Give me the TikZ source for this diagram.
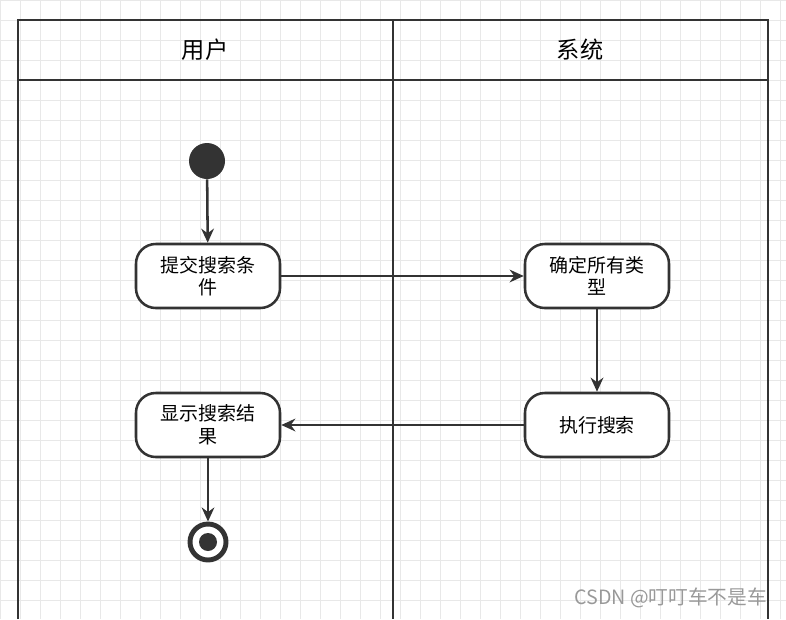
\documentclass[tikz,border=0pt]{standalone}
\usepackage{fontspec}
\setmainfont{Noto Sans CJK SC}
\usetikzlibrary{arrows.meta}
\tikzset{
    act/.style={draw=black!80, line width=1.8pt, rounded corners=14pt, minimum width=144*0.025cm, minimum height=64*0.025cm, inner sep=1pt, text width=118*0.025cm, align=center, font=\fontsize{13.5}{16}\selectfont, fill=white},
    flow/.style={draw=black!80, line width=1.8pt, -{Stealth[length=10pt,width=9pt]}},
    lane/.style={draw=black!80, line width=1.6pt}
}
\begin{document}
\begin{tikzpicture}[x=0.025cm, y=-0.025cm]

    % Background and grid
    \useasboundingbox (0,0) rectangle (786,619);
    \draw[black!9, line width=0.6pt, step=20*0.025cm] (0,0) grid (786,619);

    % Swimlanes
    \draw[lane] (18,619) -- (18,20) -- (768,20) -- (768,619);
    \draw[lane] (18,80) -- (768,80);
    \draw[lane] (393,20) -- (393,619);
    \node[font=\fontsize{16.5}{19}\selectfont] (user) at (205,50) {用户};
    \node[font=\fontsize{16.5}{19}\selectfont] (sys) at (580,50) {系统};

    % Start and end
    \node[circle, fill=black!80, minimum size=36*0.025cm, inner sep=0] (start) at (207,161) {};
    \node[circle, draw=black!80, line width=3.5pt, fill=white, minimum size=36*0.025cm, inner sep=0] (end) at (208,542) {};
    \fill[black!80] (end.center) circle [radius=9];

    % Actions
    \node[act] (submit) at (208,276) {提交搜索条\\件};
    \node[act] (types) at (597,276) {确定所有类\\型};
    \node[act] (search) at (597,425) {执行搜索};
    \node[act] (show) at (208,425) {显示搜索结\\果};

    % Flows
    \draw[flow] (start) -- (submit);
    \draw[flow] (submit) -- (types);
    \draw[flow] (types) -- (search);
    \draw[flow] (search) -- (show);
    \draw[flow] (show) -- (end);

    % Watermark
    \node[black!40, font=\fontsize{14}{16}\selectfont, anchor=east] (mark) at (772,598) {CSDN @叮叮车不是车};

\end{tikzpicture}
\end{document}
